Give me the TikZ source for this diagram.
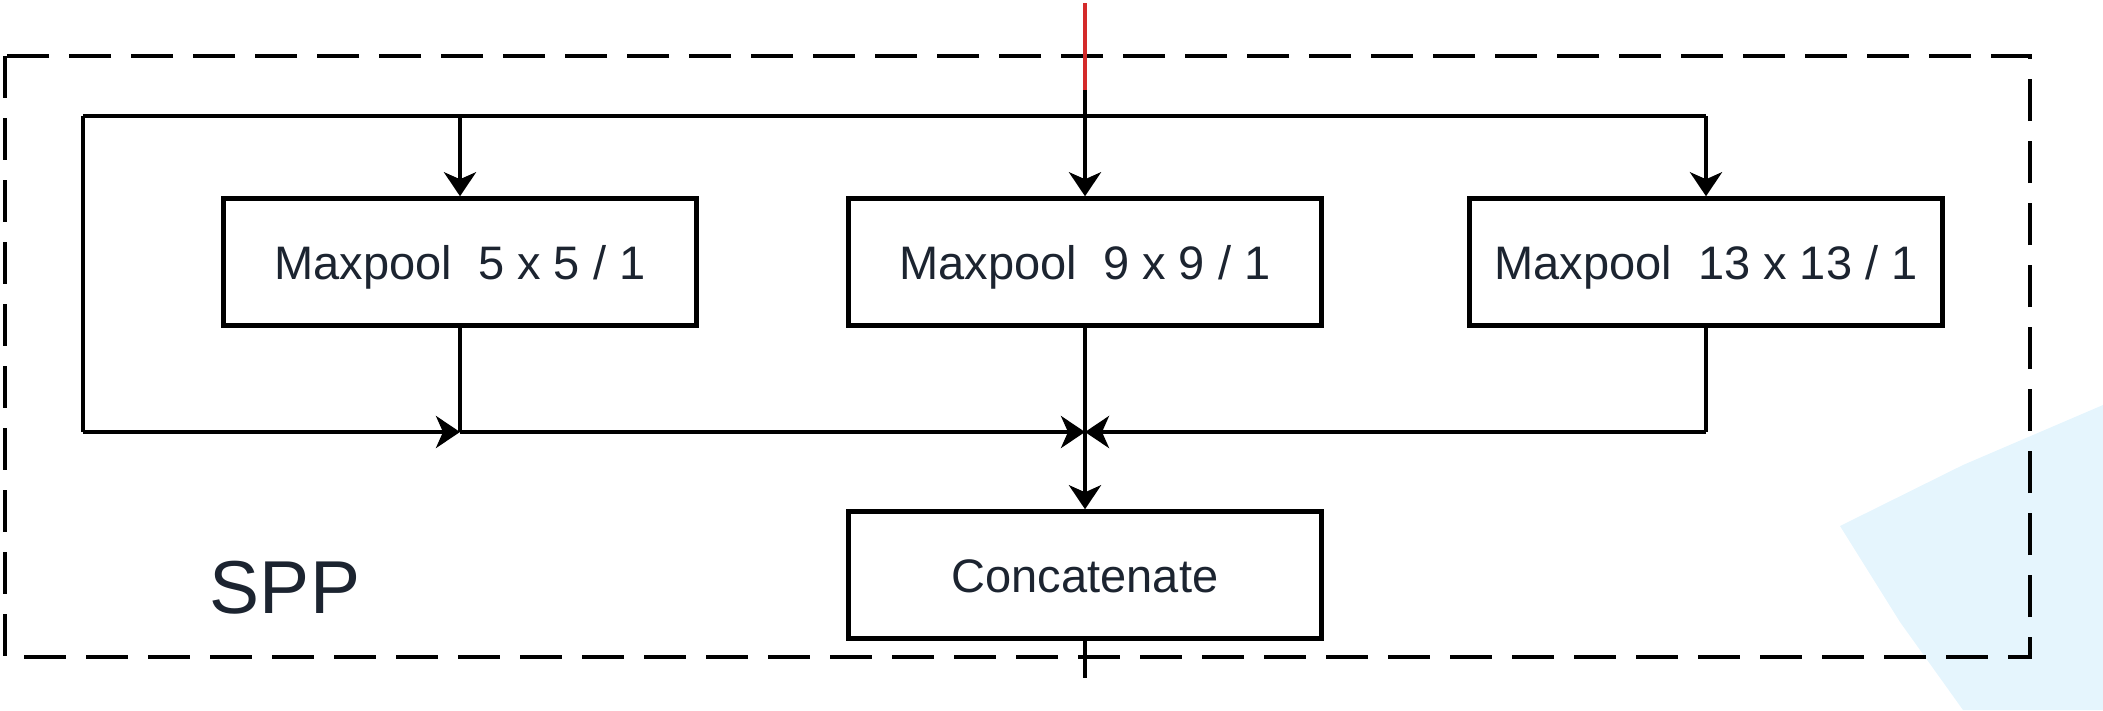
\documentclass[tikz,border=0pt]{standalone}
\usepackage{fontspec}
\setmainfont{Liberation Sans}
\usetikzlibrary{arrows.meta}
\definecolor{txt}{HTML}{1C2430}
\definecolor{bgblue}{HTML}{E5F5FD}
\definecolor{redline}{HTML}{D42A2A}
\tikzset{
  conn/.style={line width=4pt, black},
  arr/.style={conn, -{Stealth[length=24pt, width=32pt, inset=7pt]}},
  poolbox/.style={draw=black, line width=4.5pt, fill=white, minimum width=473pt, minimum height=127pt, inner sep=0pt, text=txt, text height=34pt, text depth=0pt, font=\fontsize{47}{56}\selectfont},
  frame/.style={line width=4pt, dash pattern=on 42pt off 20pt},
}
\begin{document}
\begin{tikzpicture}[x=1pt, y=-1pt]
\useasboundingbox (0,0) rectangle (2103,710);
% background tint
\fill[bgblue] (2103,405) -- (1963,465) -- (1840,526) -- (1900,622) -- (1963,710) -- (2103,710) -- cycle;
% dashed frame
\draw[frame] (5,56) rectangle (2030,657);
% nodes
\node[poolbox] (b1) at (460,262) {Maxpool\ \ 5 x 5 / 1};
\node[poolbox] (b2) at (1085,262) {Maxpool\ \ 9 x 9 / 1};
\node[poolbox] (b3) at (1706,262) {Maxpool\ \ 13 x 13 / 1};
\node[poolbox] (cat) at (1085,575) {Concatenate};
\node[text=txt, inner sep=0pt, text height=54pt, text depth=0pt, font=\fontsize{75}{90}\selectfont] (spp) at (285,586) {SPP};
% coordinates
\coordinate (in) at (1085,3);
\coordinate (redend) at (1085,90);
\coordinate (tl) at (83,116);
\coordinate (tr) at (1706,116);
\coordinate (t1) at (460,116);
\coordinate (bl) at (83,432);
\coordinate (m1) at (460,432);
\coordinate (mc) at (1085,432);
\coordinate (br) at (1706,432);
\coordinate (out) at (1085,678);
% connectors
\draw[line width=4pt, redline] (in) -- (redend);
\draw[arr] (redend) -- (b2.north);
\draw[conn] (tl) -- (tr);
\draw[arr] (t1) -- (b1.north);
\draw[arr] (tr) -- (b3.north);
\draw[conn] (tl) -- (bl);
\draw[arr] (bl) -- (m1);
\draw[conn] (b1.south) -- (m1);
\draw[arr] (m1) -- (mc);
\draw[conn] (b3.south) -- (br);
\draw[arr] (br) -- (mc);
\draw[conn] (b2.south) -- (mc);
\draw[arr] (mc) -- (cat.north);
\draw[conn] (cat.south) -- (out);
\end{tikzpicture}
\end{document}
